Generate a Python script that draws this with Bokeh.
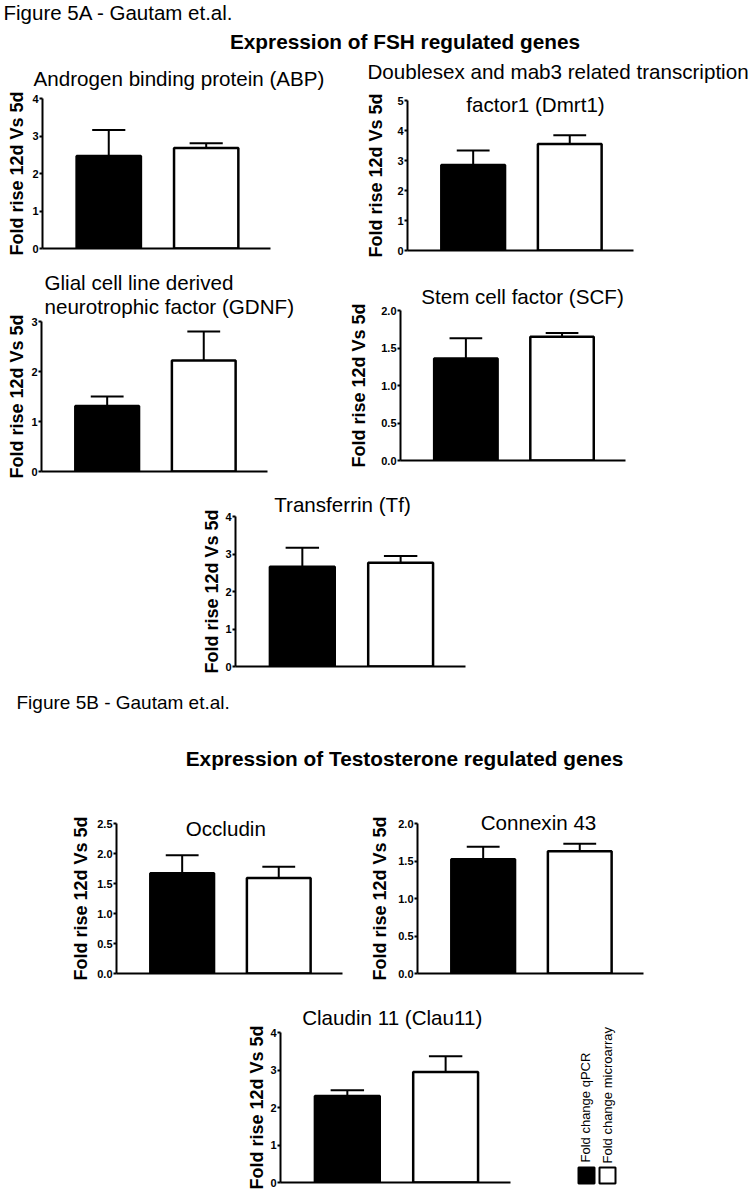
from bokeh.plotting import figure
from bokeh.models import Range1d, FixedTicker, PrintfTickFormatter, Spacer, ColumnDataSource, Plot
from bokeh.layouts import column, row
from bokeh.embed import file_html
from bokeh.resources import INLINE
from bokeh.core.properties import value
import math

FONT = "Liberation Sans"

# ---------------- data ----------------
genes = ["ABP", "Dmrt1", "GDNF", "SCF", "Tf", "Occludin", "Connexin 43", "Clau11"]
series = ["Fold change qPCR", "Fold change microarray"]
series_colors = ["black", "white"]
qpcr_mean = [2.47, 2.85, 1.31, 1.36, 2.66, 1.67, 1.525, 2.31]
qpcr_sem = [0.69, 0.48, 0.19, 0.27, 0.51, 0.30, 0.165, 0.15]
micro_mean = [2.68, 3.55, 2.22, 1.65, 2.77, 1.59, 1.63, 2.95]
micro_sem = [0.13, 0.29, 0.58, 0.05, 0.18, 0.19, 0.10, 0.42]
y_ticks = [
    [0, 1, 2, 3, 4],
    [0, 1, 2, 3, 4, 5],
    [0, 1, 2, 3],
    [0.0, 0.5, 1.0, 1.5, 2.0],
    [0, 1, 2, 3, 4],
    [0.0, 0.5, 1.0, 1.5, 2.0, 2.5],
    [0.0, 0.5, 1.0, 1.5, 2.0],
    [0, 1, 2, 3, 4],
]
# titles drawn inside the plot frames
titles_in = [
    [],
    ["factor1 (Dmrt1)"],
    ["Glial cell line derived", "neurotrophic factor (GDNF)"],
    ["Stem cell factor (SCF)"],
    ["Transferrin (Tf)"],
    ["Occludin"],
    ["Connexin 43"],
    ["Claudin 11 (Clau11)"],
]
abp_title = "Androgen binding protein (ABP)"
dmrt1_line1 = "Doublesex and mab3 related transcription"
y_label = "Fold rise 12d Vs 5d"
header_a = "Figure 5A - Gautam et.al."
heading_a = "Expression of FSH regulated genes"
header_b = "Figure 5B - Gautam et.al."
heading_b = "Expression of Testosterone regulated genes"

# ---------------- layout / style (page pixels) ----------------
XLO, XHI = 0.32, 2.66
BAR_W = 0.66
CAP_W = 0.34
T_PX = 20.6
TITLE_SIZE = "%.1fpx" % T_PX
HEAD_PX = 20.8
HAS_FA = "frame_align" in Plot.properties()


def bl(y, px):
    # baseline correction for the renderer's alphabetic placement
    return y - 0.34 * px


# plot fig box (x0, y0, x1, y1), frame top, frame right, axes box (l, t, r, b),
# in-frame title positions (x, baseline, align), label fig x0, y-label centre (x, y)
geom = [
    ((29, 91, 352, 262), 98, 268, (40, 98, 268, 248), [], 0, (16, 173)),
    ((392, 88, 750, 262), 94, 629, (403, 100, 629, 250), [(531, 111, "center")], 352, (373, 175)),
    ((28, 262, 345, 484), 268, 302, (39, 321, 265, 471),
     [(42, 289.3, "left"), (42, 312.7, "left")], 0, (16, 396)),
    ((376, 262, 750, 484), 283, 640, (396, 310, 621, 460), [(518, 303.3, "center")], 345, (356, 385)),
    ((222, 484, 580, 680), 490, 463, (233, 516, 463, 666), [(340, 510.7, "center")], 180, (211, 591)),
    ((94, 790, 365, 987), 813, 340, (114, 823, 340, 973), [(223.3, 835, "center")], 0, (80, 898)),
    ((393, 790, 750, 987), 807, 639, (413, 823, 639, 973), [(534, 829, "center")], 365, (377, 898)),
    ((267, 987, 540, 1190), 1003, 508, (278, 1032, 508, 1182), [(389.7, 1024, "center")], 220, (256, 1107)),
]


def base_fig(**kw):
    if HAS_FA:
        kw["frame_align"] = False
    p = figure(output_backend="svg", toolbar_location=None, title=None, **kw)
    p.outline_line_color = None
    p.xgrid.visible = False
    p.ygrid.visible = False
    p.background_fill_color = "white"
    p.border_fill_color = "white"
    return p


def text_fig(w, h):
    kw = dict(frame_width=w, frame_height=h, x_range=Range1d(0, w), y_range=Range1d(h, 0),
              x_axis_type=None, y_axis_type=None,
              min_border_left=0, min_border_right=0, min_border_top=0, min_border_bottom=0)
    return base_fig(**kw)


def panel(i):
    (fx0, fy0, fx1, fy1), ftop, fright, (al, at, ar, ab), tpos, lx0, (lcx, lcy) = geom[i]
    ymax = y_ticks[i][-1]
    fw = fright - al
    fh = ab - ftop
    x_end = XLO + fw / (ar - al) * (XHI - XLO)
    y_end = ymax * fh / (ab - at)
    p = base_fig(frame_width=fw, frame_height=fh,
                 x_range=Range1d(XLO, x_end), y_range=Range1d(0, y_end),
                 min_border_left=al - fx0, min_border_right=fx1 - fright,
                 min_border_top=ftop - fy0, min_border_bottom=fy1 - ab)

    ya = p.yaxis[0]
    ya.bounds = (0, ymax)
    ya.ticker = FixedTicker(ticks=y_ticks[i])
    step = y_ticks[i][1] - y_ticks[i][0]
    ya.formatter = PrintfTickFormatter(format="%.1f" if step < 1 else "%d")
    ya.axis_line_width = 2
    ya.major_tick_line_width = 2
    ya.major_tick_out = 3
    ya.major_tick_in = 0
    ya.minor_tick_out = 0
    ya.minor_tick_in = 0
    ya.major_label_standoff = 1
    ya.major_label_text_font = FONT
    ya.major_label_text_font_style = "bold"
    ya.major_label_text_font_size = "11px"
    ya.major_label_text_color = "black"

    xa = p.xaxis[0]
    xa.bounds = (XLO, XHI)
    xa.ticker = FixedTicker(ticks=[])
    xa.axis_line_width = 2
    xa.major_tick_out = 0
    xa.major_tick_in = 0
    xa.minor_tick_out = 0
    xa.minor_tick_in = 0
    xa.major_label_standoff = 0
    xa.major_label_text_font_size = "0px"

    xs = [1, 2]
    means = [qpcr_mean[i], micro_mean[i]]
    sems = [qpcr_sem[i], micro_sem[i]]
    hi = [m + s for m, s in zip(means, sems)]
    src = ColumnDataSource(dict(x=xs, top=means, hi=hi, color=series_colors,
                                cl=[x - CAP_W / 2 for x in xs], cr=[x + CAP_W / 2 for x in xs]))
    p.vbar(x="x", top="top", bottom=0, width=BAR_W, fill_color="color",
           line_color="black", line_width=2.5, source=src)
    p.segment(x0="x", y0="top", x1="x", y1="hi", line_color="black", line_width=2, source=src)
    p.segment(x0="cl", y0="hi", x1="cr", y1="hi", line_color="black", line_width=2, source=src)

    for text, (tx, ty, al_) in zip(titles_in[i], tpos):
        xd = XLO + (tx - al) / (ar - al) * (XHI - XLO)
        yd = ymax * (ab - bl(ty, T_PX)) / (ab - at)
        p.text(x=[xd], y=[yd], text=[text], text_font=value(FONT), text_font_size=TITLE_SIZE,
               text_align=al_, text_baseline="alphabetic", text_color="black")

    # y-axis label in its own strip left of the axis
    lab = text_fig(fx0 - lx0, fy1 - fy0)
    lab.text(x=[lcx - lx0], y=[lcy - fy0], text=[y_label], angle=math.pi / 2,
             text_font=value(FONT), text_font_size="18px", text_font_style="bold",
             text_align="center", text_baseline="middle", text_color="black")
    return lab, p


# header A  (page y 0..58)
hA = text_fig(750, 58)
hA.text(x=[3], y=[bl(19, 20.5)], text=[header_a], text_font=value(FONT), text_font_size="20.5px",
        text_align="left", text_baseline="alphabetic", text_color="black")
hA.text(x=[404.5], y=[bl(48.5, HEAD_PX)], text=[heading_a], text_font=value(FONT),
        text_font_size="%.1fpx" % HEAD_PX, text_font_style="bold", text_align="center",
        text_baseline="alphabetic", text_color="black")

# ABP title (page x 0..352, y 58..91)
t1 = text_fig(352, 33)
t1.text(x=[178.5], y=[bl(85, T_PX) - 58], text=[abp_title], text_font=value(FONT),
        text_font_size=TITLE_SIZE, text_align="center", text_baseline="alphabetic", text_color="black")

# first line of the Dmrt1 title (page x 352..750, y 58..88)
t2 = text_fig(398, 30)
t2.text(x=[555.5 - 352], y=[bl(78.3, T_PX) - 58], text=[dmrt1_line1], text_font=value(FONT),
        text_font_size=TITLE_SIZE, text_align="center", text_baseline="alphabetic", text_color="black")

# header B  (page y 680..790)
hB = text_fig(750, 110)
hB.text(x=[16], y=[bl(708, 19) - 680], text=[header_b], text_font=value(FONT), text_font_size="19px",
        text_align="left", text_baseline="alphabetic", text_color="black")
hB.text(x=[404], y=[bl(765, HEAD_PX) - 680], text=[heading_b], text_font=value(FONT),
        text_font_size="%.1fpx" % HEAD_PX, text_font_style="bold", text_align="center",
        text_baseline="alphabetic", text_color="black")

# legend (page x 540..640, y 987..1190)
lg = text_fig(100, 203)
lg.quad(left=[36, 57], right=[52, 73], top=[180, 180], bottom=[196, 196],
        fill_color=series_colors, line_color="black", line_width=2)
lg.text(x=[43, 65], y=[175, 176], text=series, angle=math.pi / 2, text_font=value(FONT),
        text_font_size="13px", text_align="left", text_baseline="middle", text_color="black")

L = [panel(i) for i in range(8)]

layout = column(
    hA,
    row(column(t1, row(L[0][0], L[0][1])), column(t2, row(L[1][0], L[1][1]))),
    row(L[2][0], L[2][1], L[3][0], L[3][1]),
    row(Spacer(width=180, height=196), L[4][0], L[4][1], Spacer(width=170, height=196)),
    hB,
    row(L[5][0], L[5][1], L[6][0], L[6][1]),
    row(Spacer(width=220, height=203), L[7][0], L[7][1], lg, Spacer(width=110, height=203)),
)

open("out.html", "w").write(file_html(layout, INLINE))
